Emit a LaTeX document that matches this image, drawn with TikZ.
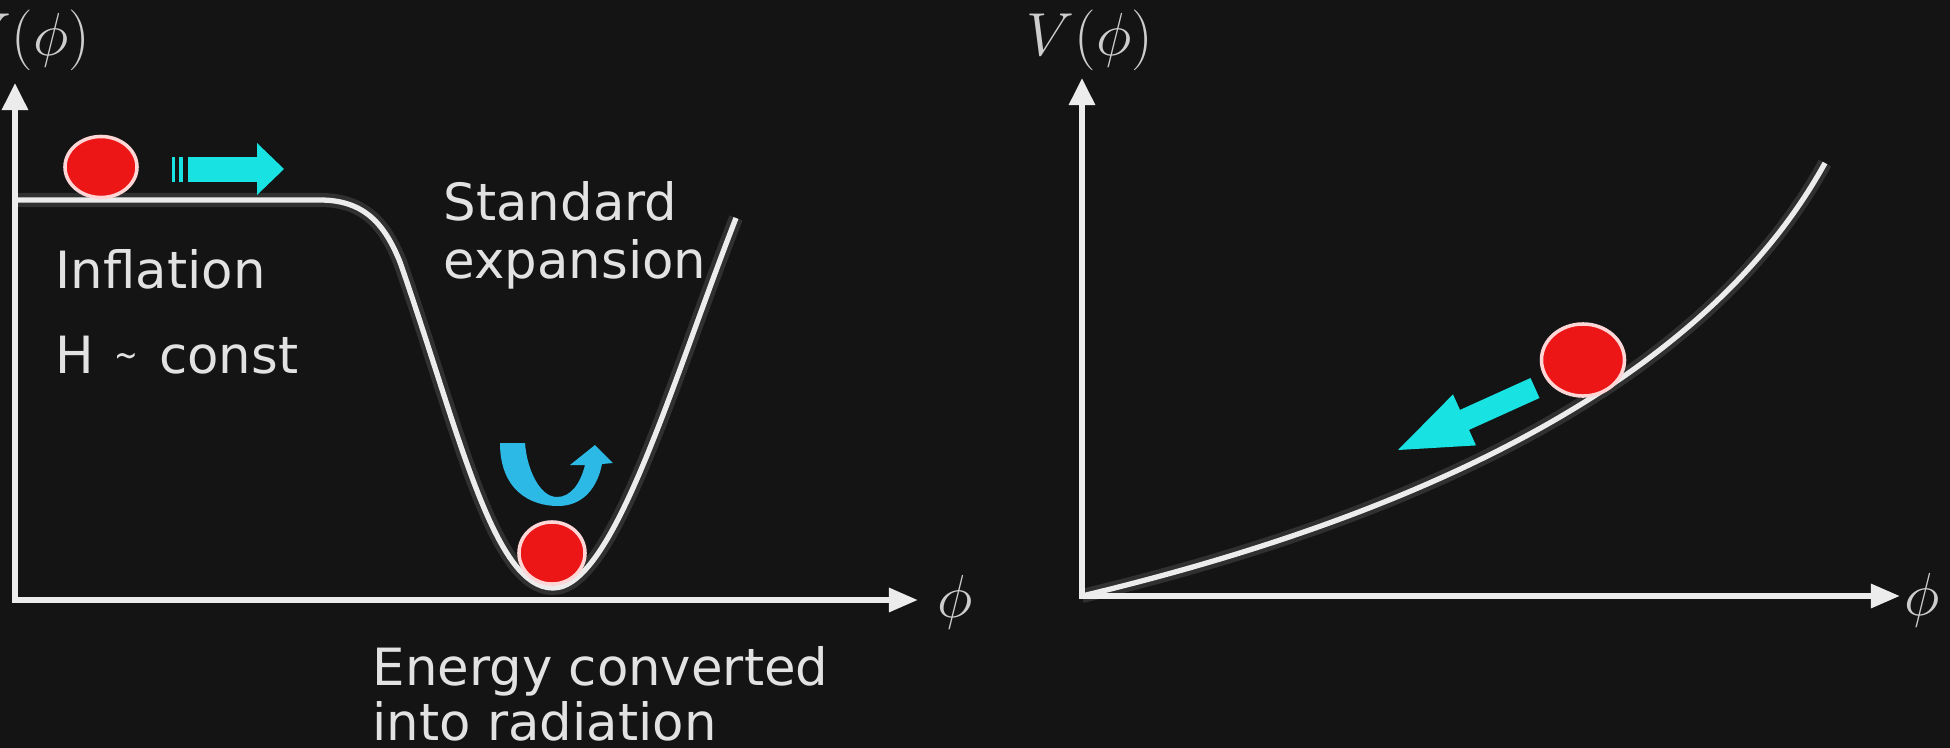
\documentclass[tikz,border=0pt]{standalone}
\usepackage{fontspec}
\usepackage{graphicx}
\setsansfont{DejaVu Sans}
\usetikzlibrary{arrows.meta,shapes.geometric}
\definecolor{bg}{RGB}{20,20,20}
\definecolor{axisc}{RGB}{236,236,236}
\definecolor{txtc}{RGB}{226,226,226}
\definecolor{mathc}{RGB}{205,205,205}
\definecolor{ballred}{RGB}{236,22,22}
\definecolor{ballrim}{RGB}{255,214,214}
\definecolor{cyanA}{RGB}{25,226,226}
\definecolor{blueB}{RGB}{45,185,230}
\begin{document}
\begin{tikzpicture}[x=0.01cm,y=-0.01cm,
  axisline/.style={draw=axisc,line width=1.7pt,line join=miter,
    {Triangle[length=0.27cm,width=0.25cm]}-{Triangle[length=0.29cm,width=0.23cm]}},
  curve/.style={draw=axisc,line width=1.5pt},
  glow/.style={draw=white,line width=4pt,opacity=0.12},
  ball/.style={ellipse,fill=ballred,draw=ballrim,line width=1pt,inner sep=0pt},
  lbl/.style={font=\sffamily\fontsize{14.6}{16}\selectfont,text=txtc,anchor=base west,inner sep=0pt},
  mathlbl/.style={font=\fontsize{17}{20}\selectfont,text=mathc,inner sep=0pt}]
\fill[bg] (0,0) rectangle (1950,748);
\useasboundingbox (0,0) rectangle (1950,748);
\clip (0,0) rectangle (1950,748);

% ---------- left panel ----------
\coordinate (yL) at (15,83);
\coordinate (oL) at (15,600);
\coordinate (xL) at (918,600);
\draw[axisline] (yL) -- (oL) -- (xL);
\node[mathlbl] (VL) at (27,40) {$V(\phi)$};
\node[mathlbl] (phiL) at (955,602) {$\phi$};

\def\wellpath{(15,200) -- (320,200) .. controls (365,200) and (385,225) .. (400,262)
  .. controls (459,431) and (493,588) .. (553,588)
  .. controls (613,588) and (670,388) .. (736,218)}
\draw[glow] \wellpath;
\draw[curve] \wellpath;

\node[ball,minimum width=0.72cm,minimum height=0.61cm] (ballTop) at (101,167) {};
\node[ball,minimum width=0.66cm,minimum height=0.62cm] (ballWell) at (552,553) {};

% top cyan arrow
\fill[cyanA] (172,157) rectangle (175,182);
\fill[cyanA] (179,157) rectangle (183,182);
\fill[cyanA] (188,157) rectangle (258,182);
\fill[cyanA] (257,143) -- (284,169) -- (257,195) -- cycle;

% curved arrow in the well
\fill[blueB] (500,443) .. controls (500,490) and (530,506) .. (558,506)
  .. controls (585,506) and (598,485) .. (602,464) -- (613,463) -- (595,445) -- (570,465) -- (585,465)
  .. controls (580,485) and (570,497) .. (557,497)
  .. controls (540,497) and (527,470) .. (525,443) -- cycle;

\node[lbl] (infl) at (55,288) {Inflation};
\node[lbl] (hconst) at (55,373) {H\hspace{0.4em}\raisebox{0.1em}{\scalebox{0.55}[0.7]{\textasciitilde}}\hspace{0.4em}const};
\node[lbl] (std1) at (443,220) {Standard};
\node[lbl] (std2) at (443,278) {expansion};
\node[lbl] (en1) at (372,685) {Energy converted};
\node[lbl] (en2) at (372,740) {into radiation};

% ---------- right panel ----------
\coordinate (yR) at (1082,78);
\coordinate (oR) at (1082,596);
\coordinate (xR) at (1900,596);
\draw[axisline] (yR) -- (oR) -- (xR);
\node[mathlbl] (VR) at (1090,40) {$V(\phi)$};
\node[mathlbl] (phiR) at (1922,600) {$\phi$};

\def\slopepath{(1082,596) .. controls (1400,520) and (1700,390) .. (1825,163)}
\draw[glow] \slopepath;
\draw[curve] \slopepath;

\node[ball,minimum width=0.83cm,minimum height=0.72cm] (ballR) at (1583,360) {};

\fill[cyanA] (1530.5,378) -- (1460,409.9) -- (1453,394.4) -- (1398,450) -- (1476,445.4) -- (1469,429.9) -- (1539.5,398) -- cycle;
\end{tikzpicture}
\end{document}
